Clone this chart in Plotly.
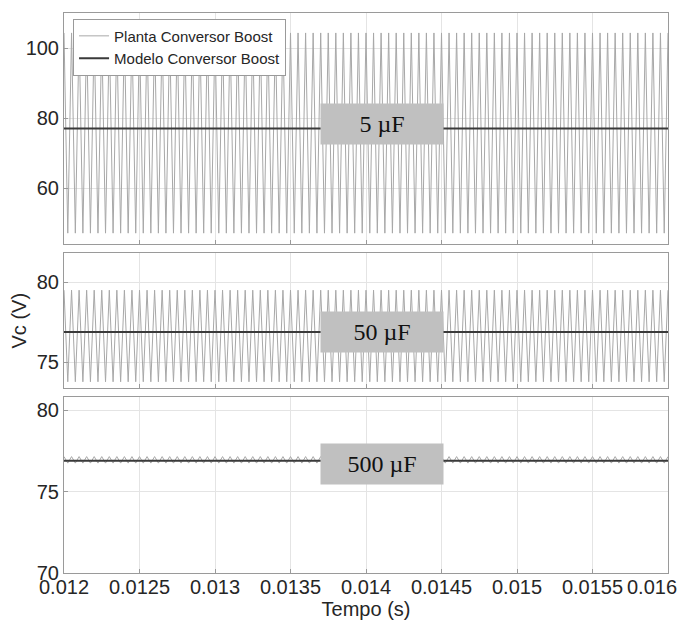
import numpy as np
import plotly.graph_objects as go
from plotly.subplots import make_subplots

# ---- data ----
capacitancias = ["5 µF", "50 µF", "500 µF"]
t_inicio = 0.012
t_fim = 0.016
periodo_comutacao = 50e-6          # 80 ripple periods in 4 ms
planta_max = [104.3, 79.5, 77.15]   # ripple peaks (V)
planta_min = [47.1, 73.8, 76.75]    # ripple troughs (V)
modelo_vc = [77.0, 76.9, 76.9]      # average model (V)

x_tickvals = [0.012, 0.0125, 0.013, 0.0135, 0.014, 0.0145, 0.015, 0.0155, 0.016]
x_ticktext = ["0.012", "0.0125", "0.013", "0.0135", "0.014", "0.0145", "0.015", "0.0155", "0.016"]
y_ticks = [[60, 80, 100], [75, 80], [70, 75, 80]]
y_ranges = [[44, 110], [73.4, 81.8], [70, 80.8]]

# vertex times of the triangular ripple (peak, trough, peak, ...)
n_vert = int(round((t_fim - t_inicio) / (periodo_comutacao / 2))) + 1
t_vert = t_inicio + np.arange(n_vert) * (periodo_comutacao / 2)

fig = make_subplots(rows=3, cols=1, shared_xaxes=False, vertical_spacing=0.0)

domains = [[0.5875, 1.0], [0.33, 0.571], [0.0, 0.314]]
FONT = "Liberation Sans, Arial, sans-serif"
TICKFONT = dict(size=20, color="#262626", family=FONT)

for i in range(3):
    onda = np.where(np.arange(n_vert) % 2 == 0, planta_max[i], planta_min[i])
    fig.add_trace(go.Scatter(x=t_vert, y=onda, mode="lines",
                             line=dict(color="#a8a8a8", width=1),
                             name="Planta Conversor Boost", showlegend=(i == 0),
                             legendrank=1),
                  row=i + 1, col=1)
    fig.add_trace(go.Scatter(x=[t_inicio, t_fim], y=[modelo_vc[i], modelo_vc[i]], mode="lines",
                             line=dict(color="#3a3a3a", width=2),
                             name="Modelo Conversor Boost", showlegend=(i == 0),
                             legendrank=2),
                  row=i + 1, col=1)

# last tick label does not fit inside the figure as an axis label; drawn as annotation below
shown_ticktext = x_ticktext[:-1] + [""]

eps = 1e-9
for i in range(3):
    xa = "xaxis" if i == 0 else f"xaxis{i+1}"
    ya = "yaxis" if i == 0 else f"yaxis{i+1}"
    fig.layout[xa].update(range=[t_inicio - eps, t_fim + eps], tickvals=x_tickvals,
                          ticktext=shown_ticktext, showticklabels=(i == 2),
                          showgrid=True, gridcolor="#e4e4e4", gridwidth=1,
                          showline=True, linecolor="#9a9a9a", linewidth=1, mirror=True,
                          ticks="inside", ticklen=4, tickcolor="#9a9a9a", automargin=False,
                          ticklabelstandoff=-4,
                          zeroline=False, tickfont=TICKFONT)
    fig.layout[ya].update(domain=domains[i], range=y_ranges[i], tickvals=y_ticks[i],
                          showgrid=True, gridcolor="#e4e4e4", gridwidth=1,
                          showline=True, linecolor="#9a9a9a", linewidth=1, mirror=True,
                          ticks="inside", ticklen=4, tickcolor="#9a9a9a", automargin=False,
                          zeroline=False, tickfont=TICKFONT)

fig.add_annotation(x=1, y=0, xref="paper", yref="paper", text=x_ticktext[-1],
                   showarrow=False, xanchor="right", yanchor="top", xshift=11, yshift=-1,
                   font=TICKFONT)

fig.layout.xaxis3.title = dict(text="Tempo (s)", font=dict(size=20, color="#262626", family=FONT),
                               standoff=4)
fig.layout.yaxis2.title = dict(text="Vc (V)", font=dict(size=20, color="#262626", family=FONT),
                               standoff=10)

ann_y = [0.801, 0.43, 0.1955]
for i in range(3):
    fig.add_annotation(x=0.5265, y=ann_y[i], xref="paper", yref="paper",
                       text=capacitancias[i], showarrow=False,
                       font=dict(family="Liberation Serif, Times New Roman, serif", size=24, color="#111"),
                       bgcolor="#c0c0c0", width=118, height=36, borderpad=2,
                       xanchor="center", yanchor="middle")

# page body has an 8px default margin: size the figure so the page fits the 688x629 window
fig.update_layout(
    width=680, height=613,
    margin=dict(l=56, r=20, t=5, b=48, autoexpand=False),
    paper_bgcolor="white", plot_bgcolor="white",
    showlegend=True,
    legend=dict(x=0.015, y=0.99, xanchor="left", yanchor="top",
                bgcolor="white", bordercolor="#9a9a9a", borderwidth=1,
                font=dict(size=15, color="#262626", family=FONT),
                tracegroupgap=0, itemwidth=30),
)

fig.write_html("out.html")
